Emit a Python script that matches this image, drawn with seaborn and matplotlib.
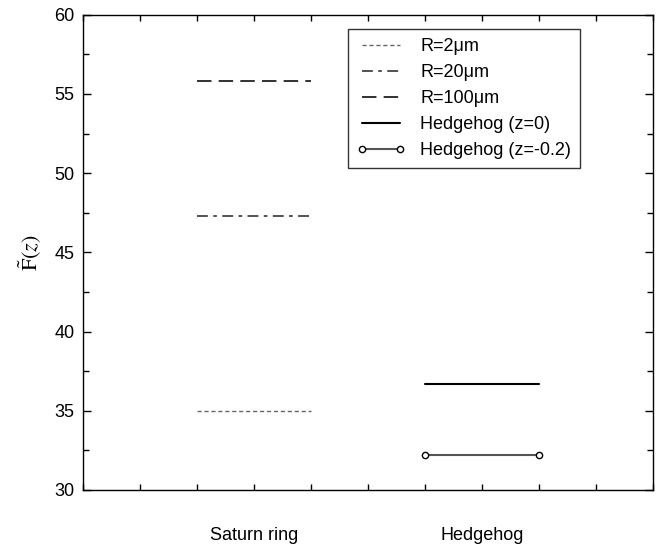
import numpy as np
import pandas as pd
import matplotlib
matplotlib.use("Agg")
import matplotlib.pyplot as plt
import seaborn as sns
from matplotlib.ticker import MultipleLocator

# =========================
# DATA
# =========================
categories = ["Saturn ring", "Hedgehog"]
saturn_labels = ["R=2μm", "R=20μm", "R=100μm"]
saturn_values = [35.0, 47.3, 55.8]
hedgehog_labels = ["Hedgehog (z=0)", "Hedgehog (z=-0.2)"]
hedgehog_values = [36.7, 32.2]

# =========================
# STYLE
# =========================
sns.set_style("ticks")
plt.rcParams["font.family"] = ["Liberation Sans", "DejaVu Sans"]
plt.rcParams["mathtext.fontset"] = "stix"
plt.rcParams["text.color"] = "black"
plt.rcParams["xtick.color"] = "black"
plt.rcParams["ytick.color"] = "black"
plt.rcParams["axes.labelcolor"] = "black"

centers = [3, 7]
half = 1.0

rows = []
for lab, v in zip(saturn_labels, saturn_values):
    for x in (centers[0] - half, centers[0] + half):
        rows.append({"x": x, "F": v, "series": lab})
for lab, v in zip(hedgehog_labels, hedgehog_values):
    for x in (centers[1] - half, centers[1] + half):
        rows.append({"x": x, "F": v, "series": lab})
df = pd.DataFrame(rows)

styles = {
    "R=2μm": dict(color="#666666", linestyle=(0, (3, 2)), lw=1.0, marker=None),
    "R=20μm": dict(color="#444444", linestyle=(0, (6, 3, 2, 3)), lw=1.3, marker=None),
    "R=100μm": dict(color="#222222", linestyle=(0, (8, 4)), lw=1.3, marker=None),
    "Hedgehog (z=0)": dict(color="black", linestyle="-", lw=1.5, marker=None),
    "Hedgehog (z=-0.2)": dict(color="#555555", linestyle="-", lw=1.5, marker="o"),
}

fig = plt.figure(figsize=(6.59, 5.48), dpi=100)
ax = fig.add_axes([0.126, 0.106, 0.865, 0.867])

for name, st in styles.items():
    sub = df[df["series"] == name]
    sns.lineplot(data=sub, x="x", y="F", ax=ax, color=st["color"],
                 linestyle=st["linestyle"], linewidth=st["lw"],
                 marker=st["marker"], markersize=4.5, markerfacecolor="white",
                 markeredgecolor="black", markeredgewidth=1.0, label=name)

ax.set_xlim(0, 10)
ax.set_ylim(30, 60)
ax.xaxis.set_major_locator(MultipleLocator(1))
ax.yaxis.set_major_locator(MultipleLocator(5))
ax.yaxis.set_minor_locator(MultipleLocator(2.5))
ax.tick_params(axis="both", which="both", direction="in", top=True, right=True,
               labelsize=13, width=1.0)
ax.tick_params(axis="x", which="major", length=4, labelbottom=False)
ax.tick_params(axis="y", which="major", length=6, pad=6)
ax.tick_params(axis="y", which="minor", length=4)
for s in ax.spines.values():
    s.set_linewidth(1.0)
    s.set_color("black")

for c, cat in zip(centers, categories):
    ax.text(c, -0.095, cat, transform=ax.get_xaxis_transform(),
            ha="center", va="center", fontsize=13)

ax.set_xlabel("")
ax.set_ylabel(r"$\tilde{\mathrm{F}}(z)$", fontsize=16, labelpad=8)

leg = ax.legend(loc="upper right", bbox_to_anchor=(0.872, 0.97), fontsize=13,
                frameon=True, fancybox=False, handlelength=2.7, numpoints=2,
                labelspacing=0.5, borderpad=0.5, handletextpad=0.8,
                borderaxespad=0.0)
leg.get_frame().set_edgecolor("black")
leg.get_frame().set_linewidth(1.0)

fig.savefig("out.png", dpi=100)
